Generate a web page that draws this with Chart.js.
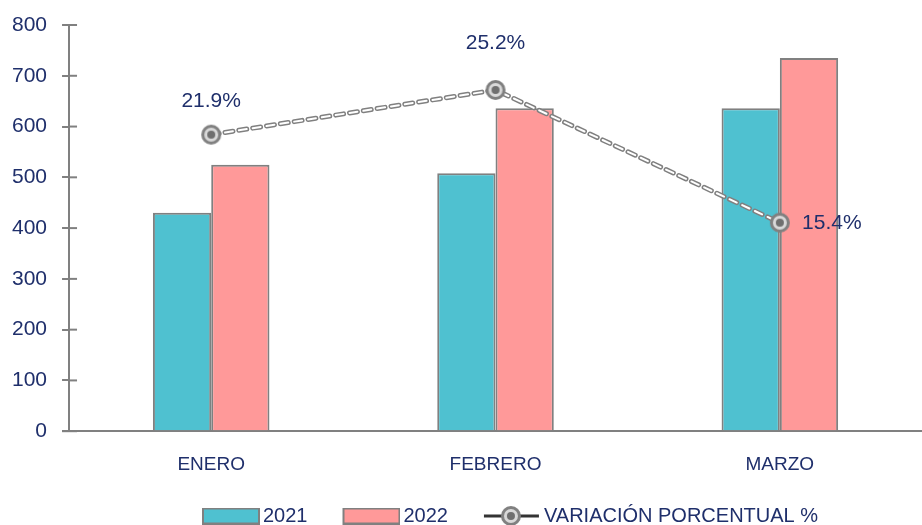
<!DOCTYPE html>
<html>
<head>
<meta charset="utf-8">
<script src="https://cdn.jsdelivr.net/npm/chart.js@4/dist/chart.umd.min.js"></script>
<style>
  html, body { margin: 0; padding: 0; background: #fff; }
  #wrap { width: 922px; height: 525px; }
</style>
</head>
<body>
<div id="wrap"><canvas id="myChart" width="922" height="525"></canvas></div>
<script>
// datos
var meses = ['ENERO', 'FEBRERO', 'MARZO'];
var valores2021 = [430, 508, 636];
var valores2022 = [525, 636, 735];
var variacion = [21.9, 25.2, 15.4];
var ticksY = [0, 100, 200, 300, 400, 500, 600, 700, 800];

var azul = '#1F2F6B';
var gris = '#808080';
var fuente = 'Liberation Sans, Arial, sans-serif';

// marcador circular del porcentaje
function dibujaMarcador(ctx, cx, cy) {
    ctx.beginPath();
    ctx.arc(cx, cy, 8.5, 0, Math.PI * 2);
    ctx.fillStyle = '#d9d9d9';
    ctx.fill();
    ctx.lineWidth = 3;
    ctx.strokeStyle = gris;
    ctx.stroke();
    ctx.beginPath();
    ctx.arc(cx, cy, 4, 0, Math.PI * 2);
    ctx.fillStyle = '#6f6f6f';
    ctx.fill();
}

function marcador() {
    var c = document.createElement('canvas');
    c.width = 24; c.height = 24;
    dibujaMarcador(c.getContext('2d'), 12, 12);
    return c;
}

// imagenes de la leyenda: 74 px de ancho, la caja pegada a la derecha
function cajaLeyenda(color) {
    var c = document.createElement('canvas');
    c.width = 74; c.height = 17;
    var ctx = c.getContext('2d');
    ctx.fillStyle = color;
    ctx.fillRect(17, 1, 56, 15);
    ctx.lineWidth = 2;
    ctx.strokeStyle = gris;
    ctx.strokeRect(17, 1, 56, 15);
    return c;
}

function lineaLeyenda() {
    var c = document.createElement('canvas');
    c.width = 74; c.height = 24;
    var ctx = c.getContext('2d');
    ctx.beginPath();
    ctx.moveTo(17, 12); ctx.lineTo(72, 12);
    ctx.lineWidth = 3;
    ctx.strokeStyle = '#333';
    ctx.stroke();
    dibujaMarcador(ctx, 44, 12);
    return c;
}

var puntoImg = marcador();

// etiquetas de porcentaje, ticks en cruz y ajuste de la leyenda
var extras = {
    id: 'extras',
    afterLayout(chart, args, opts) {
        var lg = chart.legend;
        lg.top += opts.legendDy; lg.bottom += opts.legendDy;
        lg.left += opts.legendDx; lg.right += opts.legendDx;
    },
    afterDatasetsDraw(chart, args, opts) {
        var ctx = chart.ctx;
        var meta = chart.getDatasetMeta(4);
        ctx.save();
        ctx.font = '21px ' + fuente;
        ctx.fillStyle = azul;
        ctx.textAlign = 'center';
        ctx.textBaseline = 'middle';
        meta.data.forEach(function (p, i) {
            var off = opts.offsets[i];
            ctx.fillText(variacion[i].toFixed(1) + '%', p.x + off[0], p.y + off[1]);
        });
        // parte interior de los ticks del eje y
        var y = chart.scales.y;
        ctx.strokeStyle = gris;
        ctx.lineWidth = 2;
        ticksY.forEach(function (v) {
            var py = y.getPixelForValue(v);
            ctx.beginPath();
            ctx.moveTo(y.right, py);
            ctx.lineTo(y.right + 8, py);
            ctx.stroke();
        });
        var py0 = y.getPixelForValue(0);
        ctx.beginPath();
        ctx.moveTo(y.right - 7, py0);
        ctx.lineTo(y.right, py0);
        ctx.stroke();
        ctx.restore();
    }
};

var data = {
    labels: meses,
    datasets: [
        {
            type: 'bar', label: '2021', data: valores2021,
            backgroundColor: '#4FC1D0', borderColor: gris, borderWidth: 2,
            categoryPercentage: 0.41, barPercentage: 1,
            yAxisID: 'y', order: 3
        },
        {
            type: 'bar', label: '2022', data: valores2022,
            backgroundColor: '#FF9999', borderColor: gris, borderWidth: 2,
            categoryPercentage: 0.41, barPercentage: 1,
            yAxisID: 'y', order: 4
        },
        {
            type: 'line', label: 'borde', data: variacion,
            borderColor: gris, borderWidth: 5, borderDash: [8, 6], borderCapStyle: 'round',
            pointRadius: 0, fill: false, tension: 0, yAxisID: 'y1', order: 2
        },
        {
            type: 'line', label: 'centro', data: variacion,
            borderColor: '#ffffff', borderWidth: 2, borderDash: [8, 6], borderCapStyle: 'round',
            pointRadius: 0, fill: false, tension: 0, yAxisID: 'y1', order: 1
        },
        {
            type: 'line', label: 'VARIACIÓN PORCENTUAL %', data: variacion,
            showLine: false, pointStyle: puntoImg, pointRadius: 10,
            yAxisID: 'y1', order: 0
        }
    ]
};

var imgs = [cajaLeyenda('#4FC1D0'), cajaLeyenda('#FF9999'), lineaLeyenda()];

var config = {
    data: data,
    options: {
        responsive: false,
        animation: false,
        layout: { autoPadding: false, padding: { left: -3, right: -40, top: 25, bottom: -29 } },
        plugins: {
            tooltip: { enabled: false },
            extras: { offsets: [[0, -33], [0, -47], [52, 1]], legendDy: -18, legendDx: 26 },
            legend: {
                position: 'bottom',
                labels: {
                    usePointStyle: true,
                    pointStyleWidth: 60,
                    boxHeight: 17,
                    padding: 26,
                    color: azul,
                    font: { size: 20, family: fuente },
                    generateLabels: function (chart) {
                        return [0, 1, 4].map(function (idx, k) {
                            return {
                                text: chart.data.datasets[idx].label,
                                pointStyle: imgs[k],
                                fillStyle: 'transparent', strokeStyle: 'transparent',
                                lineWidth: 0, datasetIndex: idx, fontColor: azul
                            };
                        });
                    }
                }
            }
        },
        scales: {
            x: {
                afterFit: function (s) { s.paddingLeft = 0; s.paddingRight = -40; },
                grid: { display: false, drawTicks: false },
                border: { display: true, color: gris, width: 2 },
                ticks: { color: azul, font: { size: 19, family: fuente }, padding: 22 }
            },
            y: {
                min: 0, max: 800,
                afterFit: function (s) { s.paddingTop = 0; },
                afterBuildTicks: function (s) { s.ticks = ticksY.map(function (v) { return { value: v }; }); },
                grid: { drawOnChartArea: false, drawTicks: true, tickLength: 7, color: gris, lineWidth: 2 },
                border: { display: true, color: gris, width: 2 },
                ticks: { color: azul, font: { size: 21, family: fuente }, padding: 15 }
            },
            y1: {
                display: false, min: 0, max: 30, position: 'right'
            }
        }
    },
    plugins: [extras]
};

var myChart = new Chart(document.getElementById('myChart'), config);
</script>
</body>
</html>
